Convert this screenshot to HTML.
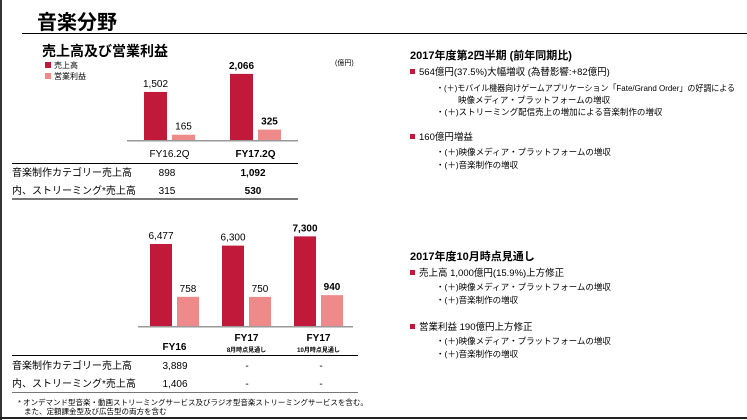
<!DOCTYPE html>
<html><head><meta charset="utf-8"><style>
body{margin:0;width:747px;height:420px;overflow:hidden;background:#fff;font-family:"Liberation Sans","Noto Sans CJK JP",sans-serif;}
svg{position:absolute;left:0;top:0}
text{font-family:"Liberation Sans","Noto Sans CJK JP",sans-serif;fill:#000}
</style></head><body>
<svg width="747" height="420">
<rect x="0" y="0" width="2" height="420" fill="#333"/>
<rect x="0" y="417" width="747" height="2" fill="#222"/>
<text x="37" y="29" font-size="20" font-weight="bold">音楽分野</text>
<rect x="22" y="33" width="725" height="1" fill="#000"/>
<text x="42" y="56" font-size="14" font-weight="bold">売上高及び営業利益</text>
<rect x="45" y="62" width="6" height="6" fill="#c0193a"/>
<text x="54" y="68" font-size="8">売上高</text>
<rect x="45" y="73" width="6" height="6" fill="#ee8a8a"/>
<text x="54" y="79" font-size="8">営業利益</text>
<text x="335" y="65" font-size="7">(億円)</text>
<g id="top"></g>
<g id="bot"></g>
<g font-size="10">
<rect x="12" y="163" width="286" height="1" fill="#000"/>
<text x="12" y="176">音楽制作カテゴリー売上高</text>
<text x="167" y="176" text-anchor="middle">898</text>
<text x="253" y="176" text-anchor="middle" font-weight="bold">1,092</text>
<text x="12" y="194">内、ストリーミング*売上高</text>
<text x="167" y="194" text-anchor="middle">315</text>
<text x="253" y="194" text-anchor="middle" font-weight="bold">530</text>
<rect x="12" y="198" width="286" height="2" fill="#777"/>
<rect x="12" y="355" width="346" height="1" fill="#000"/>
<text x="12" y="369">音楽制作カテゴリー売上高</text>
<text x="175" y="369" text-anchor="middle">3,889</text>
<text x="247" y="369" text-anchor="middle">-</text>
<text x="321" y="369" text-anchor="middle">-</text>
<text x="12" y="387">内、ストリーミング*売上高</text>
<text x="175" y="387" text-anchor="middle">1,406</text>
<text x="247" y="387" text-anchor="middle">-</text>
<text x="321" y="387" text-anchor="middle">-</text>
<rect x="12" y="392" width="346" height="1" fill="#777"/>
</g>
<text x="18" y="405" font-size="7.5">* オンデマンド型音楽・動画ストリーミングサービス及びラジオ型音楽ストリーミングサービスを含む。</text>
<text x="24" y="414" font-size="7.5">また、定額課金型及び広告型の両方を含む</text>
<g font-size="9.5">
<text x="410" y="59" font-size="11" font-weight="bold">2017年度第2四半期 (前年同期比)</text>
<rect x="410" y="69" width="5" height="5" fill="#c0193a"/>
<text x="419" y="75">564億円(37.5%)大幅増収 (為替影響:+82億円)</text>
<text x="436" y="91" font-size="8.5" textLength="299" lengthAdjust="spacingAndGlyphs">・(＋)モバイル機器向けゲームアプリケーション「Fate/Grand Order」の好調による</text>
<text x="458" y="103" font-size="8.5">映像メディア・プラットフォームの増収</text>
<text x="436" y="115" font-size="8.5">・(＋)ストリーミング配信売上の増加による音楽制作の増収</text>
<rect x="410" y="134" width="5" height="5" fill="#c0193a"/>
<text x="419" y="140">160億円増益</text>
<text x="436" y="155" font-size="8.5">・(＋)映像メディア・プラットフォームの増収</text>
<text x="436" y="168" font-size="8.5">・(＋)音楽制作の増収</text>
<text x="410" y="260" font-size="11" font-weight="bold">2017年度10月時点見通し</text>
<rect x="410" y="270" width="5" height="5" fill="#c0193a"/>
<text x="419" y="276">売上高  1,000億円(15.9%)上方修正</text>
<text x="436" y="290" font-size="8.5">・(＋)映像メディア・プラットフォームの増収</text>
<text x="436" y="303" font-size="8.5">・(＋)音楽制作の増収</text>
<rect x="410" y="324" width="5" height="5" fill="#c0193a"/>
<text x="419" y="330">営業利益  190億円上方修正</text>
<text x="436" y="344" font-size="8.5">・(＋)映像メディア・プラットフォームの増収</text>
<text x="436" y="357" font-size="8.5">・(＋)音楽制作の増収</text>
</g>
</svg>
<script>
const topCategories = ["FY16.2Q", "FY17.2Q"];
const topSales = [1502, 2066];
const topProfit = [165, 325];
const topSalesLabels = ["1,502", "2,066"];
const topProfitLabels = ["165", "325"];
const botCategories = ["FY16", "FY17", "FY17"];
const botSubLabels = ["", "8月時点見通し", "10月時点見通し"];
const botSales = [6477, 6300, 7300];
const botProfit = [758, 750, 940];
const botSalesLabels = ["6,477", "6,300", "7,300"];
const botProfitLabels = ["758", "750", "940"];
const NS = "http://www.w3.org/2000/svg";
function mk(parent, tag, attrs, txt) {
  const e = document.createElementNS(NS, tag);
  for (const k in attrs) e.setAttribute(k, attrs[k]);
  if (txt !== undefined) e.textContent = txt;
  parent.appendChild(e);
  return e;
}
function drawChart(g, cfg) {
  const base = cfg.base;
  const yScale = v => base - (v - cfg.min) * cfg.scale;
  const ax = mk(g, "rect", {x: cfg.x0, y: base, width: cfg.x1 - cfg.x0, height: 1.5, fill: "#999"});
  
  
  cfg.cats.forEach((c, i) => {
    const cx = cfg.start + i * cfg.step;
    const bw = cfg.bw;
    const ys = yScale(cfg.sales[i]), yp = yScale(cfg.profit[i]);
    const b1 = mk(g, "rect", {x: cx - bw - 2.5, y: ys, width: bw, height: base - ys, fill: "#c0193a"});
    
    
    const b2 = mk(g, "rect", {x: cx + 2.5, y: yp, width: bw, height: base - yp, fill: "#ee8a8a"});
    
    
    const bold = i === cfg.cats.length - 1;
    const l1 = mk(g, "text", {x: cx - bw / 2 - 2.5, y: ys - 5, "font-size": 10, "text-anchor": "middle", "font-weight": bold ? "bold" : "normal"}, cfg.sLab[i]);
    
    
    const l2 = mk(g, "text", {x: cx + bw / 2 + 2.5, y: yp - 5, "font-size": 10, "text-anchor": "middle", "font-weight": bold ? "bold" : "normal"}, cfg.pLab[i]);
    
    
    const sub = cfg.sub && cfg.sub[i];
    const c1 = mk(g, "text", {x: cx, y: sub ? cfg.catY - 9 : cfg.catY, "font-size": 10, "text-anchor": "middle", "font-weight": (bold || cfg.allBoldCat) ? "bold" : "normal"}, c);
    
    
    if (sub) {
      const c2 = mk(g, "text", {x: cx, y: cfg.catY + 2, "font-size": 6, "text-anchor": "middle", "font-weight": "bold"}, sub);
      
      
    }
  });
}
drawChart(document.getElementById("top"), {base: 140, min: 0, scale: 0.032, x0: 127, x1: 298, start: 169.5, step: 86, bw: 23,
  cats: topCategories, sales: topSales, profit: topProfit, sLab: topSalesLabels, pLab: topProfitLabels, catY: 157});
drawChart(document.getElementById("bot"), {base: 326, min: -2400, scale: 0.00924, x0: 138, x1: 353, start: 174.5, step: 72, bw: 22,
  cats: botCategories, sales: botSales, profit: botProfit, sLab: botSalesLabels, pLab: botProfitLabels, catY: 350, sub: botSubLabels, allBoldCat: true});
</script>
</body></html>
